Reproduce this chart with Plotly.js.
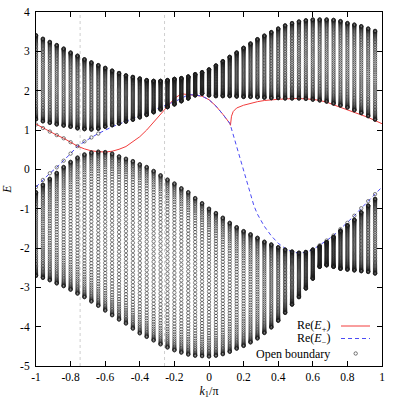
<!DOCTYPE html>
<html>
<head>
<meta charset="utf-8">
<script src="https://cdn.plot.ly/plotly-3.0.1.min.js"></script>
<style>html,body{margin:0;padding:0;background:#fff;}#chart{width:399px;height:400px;}</style>
</head>
<body>
<div id="chart"></div>
<script>
// ---- data ----
const kCols = [-1,-0.96,-0.92,-0.88,-0.84,-0.80,-0.76,-0.72,-0.68,-0.64,-0.60,-0.56,-0.52,-0.48,-0.44,-0.40,-0.36,-0.32,-0.28,-0.24,-0.20,-0.16,-0.12,-0.08,-0.04,0,0.04,0.08,0.12,0.16,0.20,0.24,0.28,0.32,0.36,0.40,0.44,0.48,0.52,0.56,0.60,0.64,0.68,0.72,0.76,0.80,0.84,0.88,0.92,0.96];
const upperTop = [3.41,3.32,3.24,3.16,3.07,2.97,2.89,2.80,2.72,2.65,2.58,2.51,2.45,2.39,2.35,2.31,2.27,2.25,2.25,2.27,2.30,2.32,2.36,2.42,2.47,2.54,2.64,2.75,2.86,2.97,3.09,3.20,3.31,3.40,3.49,3.58,3.66,3.72,3.76,3.79,3.81,3.81,3.81,3.80,3.77,3.72,3.68,3.64,3.58,3.52];
const upperBot = [1.27,1.22,1.18,1.14,1.11,1.08,1.04,1.02,1.01,1.03,1.08,1.12,1.16,1.21,1.26,1.32,1.38,1.45,1.52,1.58,1.65,1.73,1.80,1.88,1.92,1.88,1.86,1.86,1.86,1.85,1.84,1.84,1.83,1.82,1.81,1.81,1.80,1.80,1.80,1.79,1.77,1.75,1.72,1.67,1.62,1.57,1.50,1.43,1.35,1.26];
const lowerTop = [-0.58,-0.39,-0.24,-0.09,0.06,0.19,0.30,0.38,0.43,0.45,0.44,0.40,0.33,0.27,0.21,0.13,0.06,-0.04,-0.15,-0.26,-0.36,-0.48,-0.58,-0.73,-0.86,-1.00,-1.11,-1.23,-1.36,-1.47,-1.57,-1.65,-1.74,-1.84,-1.91,-1.98,-2.04,-2.09,-2.12,-2.10,-2.04,-1.96,-1.85,-1.72,-1.56,-1.42,-1.28,-1.09,-0.92,-0.75];
const lowerBot = [-2.71,-2.76,-2.82,-2.90,-2.97,-3.06,-3.16,-3.25,-3.36,-3.47,-3.59,-3.71,-3.82,-3.92,-4.05,-4.17,-4.26,-4.35,-4.45,-4.53,-4.60,-4.66,-4.71,-4.74,-4.75,-4.76,-4.74,-4.70,-4.64,-4.56,-4.49,-4.40,-4.30,-4.16,-4.02,-3.85,-3.65,-3.44,-3.25,-3.03,-2.78,-2.48,-2.44,-2.48,-2.53,-2.55,-2.57,-2.59,-2.61,-2.65];
const levelsPerBand = 66;   // open-chain levels in each band column

// in-gap (edge) states of the open chain
const edgeK = [-1,-0.96,-0.92,-0.88,-0.84,-0.80,-0.76, -1,-0.96,-0.92,-0.88,-0.84,-0.80,-0.72,-0.68,-0.64, 0.64,0.68,0.72,0.76,0.80,0.84,0.88,0.92,0.96];
const edgeE = [1.14,1.05,0.96,0.87,0.79,0.69,0.59, -0.45,-0.27,-0.10,0.05,0.22,0.40,0.71,0.81,0.91, -1.93,-1.81,-1.68,-1.52,-1.36,-1.18,-0.99,-0.81,-0.63];

// Re(E+)
const redK = [-1,-0.96,-0.92,-0.88,-0.84,-0.80,-0.76,-0.72,-0.68,-0.64,-0.60,-0.56,-0.52,-0.48,-0.44,-0.40,-0.36,-0.32,-0.28,-0.24,-0.20,-0.16,-0.12,-0.08,-0.04,0,0.04,0.08,0.10,0.12,0.124,0.13,0.14,0.16,0.20,0.24,0.28,0.32,0.36,0.40,0.44,0.48,0.52,0.56,0.60,0.64,0.68,0.72,0.76,0.80,0.84,0.88,0.92,0.96,1];
const redE = [1.15,1.05,0.96,0.87,0.79,0.69,0.59,0.52,0.47,0.45,0.44,0.46,0.51,0.58,0.70,0.83,1.00,1.20,1.41,1.62,1.80,1.92,1.90,1.89,1.86,1.77,1.61,1.40,1.29,1.17,1.12,1.35,1.47,1.56,1.63,1.68,1.72,1.75,1.77,1.78,1.79,1.80,1.80,1.79,1.78,1.75,1.71,1.64,1.58,1.52,1.45,1.39,1.32,1.24,1.16];
// Re(E-)
const blueK = [-1,-0.96,-0.92,-0.88,-0.84,-0.80,-0.76,-0.72,-0.68,-0.64,-0.60,-0.56,-0.52,-0.48,-0.44,-0.40,-0.36,-0.32,-0.28,-0.24,-0.20,-0.16,-0.12,-0.08,-0.04,0,0.04,0.08,0.10,0.12,0.124,0.14,0.16,0.18,0.20,0.22,0.24,0.26,0.28,0.30,0.32,0.36,0.40,0.44,0.48,0.52,0.56,0.60,0.64,0.68,0.72,0.76,0.80,0.84,0.88,0.92,0.96,1];
const blueE = [-0.45,-0.27,-0.10,0.05,0.22,0.40,0.59,0.71,0.81,0.91,1.00,1.08,1.15,1.22,1.29,1.35,1.42,1.49,1.56,1.64,1.72,1.80,1.90,1.89,1.86,1.77,1.61,1.40,1.29,1.17,1.12,0.88,0.57,0.26,-0.05,-0.36,-0.68,-0.93,-1.14,-1.31,-1.45,-1.69,-1.88,-2.01,-2.09,-2.13,-2.11,-2.04,-1.93,-1.81,-1.68,-1.52,-1.36,-1.18,-0.99,-0.81,-0.63,-0.45];

const vLines = [-0.745, -0.257];
const xTicks = [-1,-0.8,-0.6,-0.4,-0.2,0,0.2,0.4,0.6,0.8,1];
const xTickText = ['-1','-0.8','-0.6','-0.4','-0.2','0','0.2','0.4','0.6','0.8','1'];
const yTicks = [-5,-4,-3,-2,-1,0,1,2,3,4];
const yTickText = ['-5','-4','-3','-2','-1','0','1','2','3','4'];
const legendLabels = ['Re(<i>E</i><sub>+</sub>)', 'Re(<i>E</i><sub>\u2212</sub>)', 'Open boundary'];

// ---- build the open-boundary point cloud ----
const px = [], py = [];
function addBand(k, lo, hi) {
  for (let j = 0; j < levelsPerBand; j++) {
    const t = (1 - Math.cos(Math.PI * j / (levelsPerBand - 1))) / 2;
    px.push(k); py.push(lo + (hi - lo) * t);
  }
}
kCols.forEach((k, i) => {
  addBand(k, upperBot[i], upperTop[i]);
  addBand(k, lowerBot[i], lowerTop[i]);
});
edgeK.forEach((k, i) => { px.push(k); py.push(edgeE[i]); });

const FONT = 'Liberation Serif, Times New Roman, serif';
const PTCOL = '#1e1e1e';

const traces = [
  {x: redK, y: redE, type: 'scatter', mode: 'lines', line: {color: '#f23c3c', width: 1}, showlegend: false, hoverinfo: 'skip'},
  {x: blueK, y: blueE, type: 'scatter', mode: 'lines', line: {color: '#4b4bf5', width: 1, dash: '4px,3px'}, showlegend: false, hoverinfo: 'skip'},
  {x: px, y: py, type: 'scatter', mode: 'markers',
   marker: {symbol: 'circle-open', size: 3.4, color: PTCOL, line: {width: 0.55}},
   showlegend: false, hoverinfo: 'skip'}
];

const L = 36, R = 17, T = 12, B = 34, W = 399, H = 400;
const pw = W - L - R, ph = H - T - B;
const xp = p => (p - L) / pw;
const yp = p => (H - B - p) / ph;

const legY = [326, 338.5, 353.5];
const annotations = legendLabels.map((t, i) => ({
  text: t, xref: 'paper', yref: 'paper', x: xp(332), y: yp(legY[i]),
  xanchor: 'right', yanchor: 'middle', showarrow: false,
  font: {family: FONT, size: 12, color: '#000'}
}));

const shapes = vLines.map(v => ({
  type: 'line', xref: 'x', yref: 'paper', x0: v, x1: v, y0: 0, y1: 1,
  line: {color: '#cfcfcf', width: 1, dash: 'dot'}, layer: 'below'
}));
shapes.push({type: 'line', xref: 'paper', yref: 'paper', x0: xp(341), x1: xp(370), y0: yp(legY[0]), y1: yp(legY[0]), line: {color: '#f23c3c', width: 1}});
shapes.push({type: 'line', xref: 'paper', yref: 'paper', x0: xp(341), x1: xp(370), y0: yp(legY[1]), y1: yp(legY[1]), line: {color: '#4b4bf5', width: 1, dash: '4px,3px'}});
shapes.push({type: 'circle', xref: 'paper', yref: 'paper', x0: xp(354.0), x1: xp(357.4), y0: yp(legY[2] + 1.7), y1: yp(legY[2] - 1.7), line: {color: PTCOL, width: 0.6}});

const axisCommon = {
  showline: true, linecolor: '#000', linewidth: 1, mirror: 'allticks',
  ticks: 'inside', ticklen: 5, tickwidth: 1, tickcolor: '#000',
  showgrid: false, zeroline: false,
  tickfont: {family: FONT, size: 11.5, color: '#000'}
};

const layout = {
  width: W, height: H,
  margin: {l: L, r: R, t: T, b: B, pad: 0},
  paper_bgcolor: '#fff', plot_bgcolor: '#fff',
  showlegend: false,
  xaxis: Object.assign({}, axisCommon, {
    range: [-1, 1], tickvals: xTicks, ticktext: xTickText,
    title: {text: '<i>k</i><sub>1</sub>/\u03c0', font: {family: FONT, size: 12, color: '#000'}, standoff: 4}
  }),
  yaxis: Object.assign({}, axisCommon, {
    range: [-5, 4], tickvals: yTicks, ticktext: yTickText, ticklabelstandoff: 3,
    title: {text: '<i>E</i>', font: {family: FONT, size: 12, color: '#000'}, standoff: 8}
  }),
  annotations: annotations,
  shapes: shapes
};

Plotly.newPlot('chart', traces, layout, {staticPlot: true, displayModeBar: false});
</script>
</body>
</html>
